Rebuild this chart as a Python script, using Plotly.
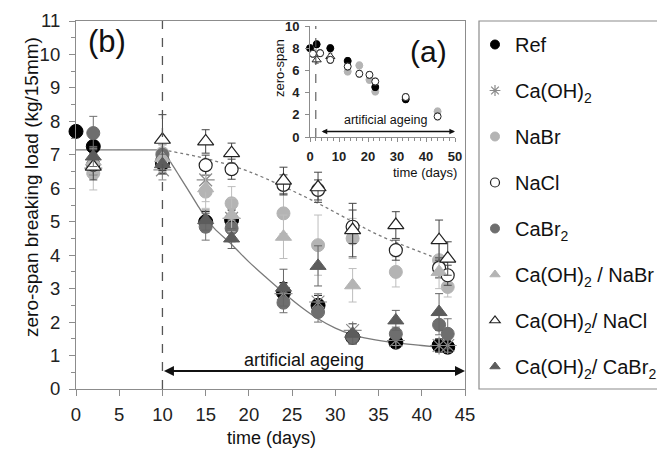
import plotly.graph_objects as go

# ---------------- data ----------------
days = [0, 2, 10, 15, 18, 24, 28, 32, 37, 42, 43]

ref_v        = [7.7, 7.25, 6.75, 5.0, 5.05, 2.88, 2.5, 1.55, 1.4, 1.3, 1.25]
ref_e        = [0, 0.3, 0.3, 0.3, 0.3, 0.3, 0.3, 0.2, 0.15, 0.2, 0.15]
caoh_v       = [None, 6.6, 6.55, 6.25, 5.1, 2.85, 2.6, 1.75, 1.45, 1.3, 1.3]
caoh_e       = [0, 0.3, 0.3, 0.35, 0.3, 0.3, 0.25, 0.2, 0.15, 0.2, 0.2]
nabr_v       = [None, 6.45, 7.05, 5.9, 5.55, 5.25, 4.3, 4.5, 3.5, 3.85, 3.05]
nabr_e       = [0, 0.5, 0.4, 0.5, 0.5, 0.6, 0.9, 0.6, 0.45, 0.5, 0.3]
nacl_v       = [None, 6.7, 6.83, 6.69, 6.57, 6.1, 5.95, 4.85, 4.15, 3.62, 3.4]
nacl_e       = [0, 0.3, 0.3, 0.3, 0.3, 0.3, 0.3, 0.5, 0.3, 0.3, 0.3]
cabr_v       = [None, 7.65, 7.0, 4.85, 4.8, 2.58, 2.3, 1.55, 1.65, 1.92, 1.65]
cabr_e       = [0, 0.5, 0.3, 0.4, 0.4, 0.3, 0.3, 0.2, 0.2, 0.3, 0.45]
caoh_nabr_v  = [None, 6.8, 6.9, 6.0, 5.2, 4.55, None, 3.1, None, 3.5, None]
caoh_nabr_e  = [0, 0.4, 0.4, 0.4, 0.5, 0.65, 0, 0.5, 0, 0.5, 0]
caoh_nacl_v  = [None, 6.65, 7.45, 7.4, 7.05, 6.23, 6.03, 4.75, 4.9, 4.45, 3.9]
caoh_nacl_e  = [0, 0.4, 0.75, 0.35, 0.3, 0.4, 0.45, 0.8, 0.4, 0.6, 0.5]
caoh_cabr_v  = [None, 6.95, 6.72, 5.05, 4.5, 3.03, 3.68, 1.65, 2.05, 2.3, None]
caoh_cabr_e  = [0, 0.3, 0.3, 0.3, 0.3, 0.55, 0.6, 0.3, 0.3, 0.55, 0]

# fitted curves
flat_x = [0, 10]
flat_y = [7.15, 7.15]
fit_solid_x = [10, 11, 12, 13, 14, 15, 16, 18, 20, 22, 24, 26, 28, 30, 32, 34, 37, 40, 43]
fit_solid_y = [7.15, 6.76, 6.35, 5.94, 5.52, 5.12, 4.8, 4.32, 3.8, 3.33, 2.88, 2.46, 2.1, 1.82, 1.62, 1.5, 1.38, 1.3, 1.22]
fit_dot_x = [10, 14, 17, 20, 24, 28, 32, 35, 38, 41, 43]
fit_dot_y = [7.15, 6.95, 6.75, 6.5, 6.05, 5.55, 5.0, 4.6, 4.28, 3.98, 3.78]

# inset (a)
in_black_d = [0, 2.3, 7, 13, 22.5, 33]
in_black_v = [8.0, 8.35, 8.0, 6.85, 4.5, 3.4]
in_gray_d  = [1.5, 13, 17, 20.5, 22.5, 44]
in_gray_v  = [7.6, 5.9, 6.45, 5.15, 4.1, 2.3]
in_open_d  = [1, 3.5, 7, 13, 17, 20.5, 22.5, 33, 44]
in_open_v  = [7.5, 7.55, 6.95, 6.35, 5.7, 5.6, 5.0, 3.6, 1.85]
in_tri_d   = [2.3, 7]
in_tri_v   = [6.95, 7.25]

names = ["Ref", "Ca(OH)<sub>2</sub>", "NaBr", "NaCl", "CaBr<sub>2</sub>",
         "Ca(OH)<sub>2</sub> / NaBr", "Ca(OH)<sub>2</sub>/ NaCl", "Ca(OH)<sub>2</sub>/ CaBr<sub>2</sub>"]

# ---------------- geometry (target screen pixels; the page body adds an 8px offset) ----------------
W, H = 665, 449
OFF = 8
L, R, T, B = 76, 465, 21, 389          # plot area on screen
def px(x): return (x - L) / (R - L)
def py(y): return (B - y) / (B - T)

FONT = "Liberation Sans, Arial, sans-serif"

styles = [
    dict(symbol="circle", color="#000000", line=dict(color="#000000", width=1), size=14, ec="#000000"),
    dict(symbol="asterisk-open", color="#8a8a8a", line=dict(color="#8a8a8a", width=1.2), size=15, ec="#8a8a8a"),
    dict(symbol="circle", color="#b4b4b4", line=dict(color="#b4b4b4", width=1), size=13, ec="#bdbdbd"),
    dict(symbol="circle", color="#ffffff", line=dict(color="#222222", width=1.2), size=13, ec="#444444"),
    dict(symbol="circle", color="#6e6e6e", line=dict(color="#6e6e6e", width=1), size=13, ec="#707070"),
    dict(symbol="triangle-up", color="#b4b4b4", line=dict(color="#b4b4b4", width=1), size=14, ec="#bdbdbd"),
    dict(symbol="triangle-up", color="#ffffff", line=dict(color="#222222", width=1.2), size=14, ec="#444444"),
    dict(symbol="triangle-up", color="#5c5c5c", line=dict(color="#5c5c5c", width=1), size=14, ec="#666666"),
]
vals = [ref_v, caoh_v, nabr_v, nacl_v, cabr_v, caoh_nabr_v, caoh_nacl_v, caoh_cabr_v]
errs = [ref_e, caoh_e, nabr_e, nacl_e, cabr_e, caoh_nabr_e, caoh_nacl_e, caoh_cabr_e]

fig = go.Figure()

fig.add_trace(go.Scatter(x=flat_x, y=flat_y, mode="lines", line=dict(color="#7a7a7a", width=1.3),
                         showlegend=False, hoverinfo="skip"))
fig.add_trace(go.Scatter(x=fit_solid_x, y=fit_solid_y, mode="lines", line=dict(color="#7a7a7a", width=1.3, shape="spline"),
                         showlegend=False, hoverinfo="skip"))
fig.add_trace(go.Scatter(x=fit_dot_x, y=fit_dot_y, mode="lines", line=dict(color="#7a7a7a", width=1.3, dash="dot", shape="spline"),
                         showlegend=False, hoverinfo="skip"))

for nm, st, v, e in zip(names, styles, vals, errs):
    fig.add_trace(go.Scatter(
        x=days, y=v, mode="markers", showlegend=False, cliponaxis=False,
        marker=dict(symbol=st["symbol"], color=st["color"], size=st["size"], line=st["line"]),
        error_y=dict(type="data", array=e, color=st["ec"], thickness=1, width=4),
    ))

for i, (nm, st) in enumerate(zip(names, styles)):
    fig.add_trace(go.Scatter(
        x=[None], y=[None], mode="markers", name=nm, legendgroup=str(i),
        marker=dict(symbol=st["symbol"], color=st["color"], size=9, line=st["line"]),
    ))

inset_sets = [
    (in_gray_d, in_gray_v, dict(symbol="circle", color="#b4b4b4", size=7, line=dict(color="#b4b4b4", width=1)), "#bbbbbb"),
    (in_black_d, in_black_v, dict(symbol="circle", color="#000000", size=7, line=dict(color="#000000", width=1)), "#333333"),
    (in_tri_d, in_tri_v, dict(symbol="triangle-up", color="#ffffff", size=8, line=dict(color="#222222", width=1)), "#555555"),
    (in_open_d, in_open_v, dict(symbol="circle", color="#ffffff", size=7, line=dict(color="#222222", width=1)), "#555555"),
]
for d, v, mk, ec in inset_sets:
    fig.add_trace(go.Scatter(x=d, y=v, mode="markers", marker=mk, xaxis="x2", yaxis="y2", showlegend=False,
                             cliponaxis=False,
                             error_y=dict(type="constant", value=0.3, color=ec, thickness=1, width=2)))

axis_common = dict(showgrid=False, zeroline=False, linecolor="#8c8c8c", linewidth=1.2, tickcolor="#8c8c8c",
                   ticks="outside", tickfont=dict(family=FONT, size=18.5, color="#222222"))

fig.update_layout(
    width=W, height=H,
    margin=dict(l=L - OFF, r=W - (R - OFF), t=T - OFF, b=H - (B - OFF), pad=0, autoexpand=False),
    paper_bgcolor="white", plot_bgcolor="white",
    font=dict(family=FONT, color="#111111"),
    xaxis=dict(range=[0, 45], dtick=5, tick0=0, ticklen=6, mirror=True, showline=True,
               ticklabelstandoff=3, **axis_common),
    yaxis=dict(range=[0, 11], dtick=1, tick0=0, ticklen=6, mirror=True, showline=True,
               minor=dict(dtick=0.5, ticklen=4, ticks="outside", tickcolor="#8c8c8c"),
               ticklabelstandoff=5, **axis_common),
    xaxis2=dict(domain=[px(310), px(455)], anchor="y2", range=[0, 50], dtick=10, tick0=0, ticklen=4,
                showline=True, showgrid=False, zeroline=False, linecolor="#8c8c8c", tickcolor="#8c8c8c", ticks="outside",
                minor=dict(dtick=2, ticklen=3, ticks="outside", tickcolor="#8c8c8c"),
                tickfont=dict(family=FONT, size=13, color="#222222", weight="bold"), ticklabelstandoff=3),
    yaxis2=dict(domain=[py(137), py(26)], anchor="x2", range=[0, 10], dtick=2, tick0=0, ticklen=4,
                showline=True, showgrid=False, zeroline=False, linecolor="#8c8c8c", tickcolor="#8c8c8c", ticks="outside",
                tickfont=dict(family=FONT, size=13, color="#222222", weight="bold"), ticklabelstandoff=3),
    legend=dict(x=px(475), y=py(25), xanchor="left", yanchor="top", bgcolor="rgba(0,0,0,0)",
                font=dict(family=FONT, size=20, color="#111111"), tracegroupgap=17, itemwidth=30,
                maxheight=440),
)

shapes = [
    dict(type="rect", xref="paper", yref="paper", x0=px(479), x1=px(720), y0=0, y1=1,
         line=dict(color="#8c8c8c", width=1.2), fillcolor="rgba(0,0,0,0)", layer="below"),
    dict(type="line", xref="x", yref="y", x0=10, x1=10, y0=0, y1=11, line=dict(color="#555555", width=1.3, dash="dash")),
    dict(type="line", xref="x2", yref="y2", x0=2, x1=2, y0=0, y1=10, line=dict(color="#555555", width=1.1, dash="dash")),
]
fig.update_layout(shapes=shapes)

C = dict(xanchor="center", yanchor="middle", showarrow=False)
ann = [
    dict(x=45, y=0.54, ax=10, ay=0.54, xref="x", yref="y", axref="x", ayref="y", text="", showarrow=True,
         arrowhead=2, arrowside="end+start", arrowwidth=2, arrowsize=1, arrowcolor="#111111", standoff=0, startstandoff=0),
    dict(x=26.4, y=0.88, xref="x", yref="y", text="artificial ageing",
         font=dict(family=FONT, size=18, color="#111111"), **C),
    dict(x=50, y=0.5, ax=3.5, ay=0.5, xref="x2", yref="y2", axref="x2", ayref="y2", text="", showarrow=True,
         arrowhead=2, arrowside="end+start", arrowwidth=1.4, arrowsize=0.8, arrowcolor="#111111", standoff=0, startstandoff=0),
    dict(x=26, y=1.55, xref="x2", yref="y2", text="artificial ageing",
         font=dict(family=FONT, size=12.5, color="#111111"), **C),
    dict(x=px(107), y=py(42), xref="paper", yref="paper", text="(b)",
         font=dict(family=FONT, size=31, color="#111111"), **C),
    dict(x=px(428), y=py(51), xref="paper", yref="paper", text="(a)",
         font=dict(family=FONT, size=30, color="#111111"), **C),
    dict(x=px(31), y=py(187), xref="paper", yref="paper", text="zero-span breaking load (kg/15mm)", textangle=-90,
         font=dict(family=FONT, size=19, color="#111111"), **C),
    dict(x=px(271), y=py(438.5), xref="paper", yref="paper", text="time (days)",
         font=dict(family=FONT, size=18, color="#111111"), **C),
    dict(x=px(280), y=py(68), xref="paper", yref="paper", text="zero-span", textangle=-90,
         font=dict(family=FONT, size=13, color="#111111"), **C),
    dict(x=px(425), y=py(173), xref="paper", yref="paper", text="time (days)",
         font=dict(family=FONT, size=13, color="#111111"), **C),
]
fig.update_layout(annotations=ann)

fig.write_html("out.html")
